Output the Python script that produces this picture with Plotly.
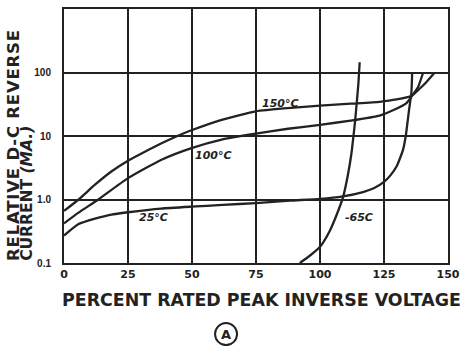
import math
import plotly.graph_objects as go

# ---- data ----
x_150 = [0, 5.7, 12.1, 18.5, 25, 31.4, 37.9, 44.3, 49.5, 61.6, 75, 87.4, 100, 112, 123.3, 129.9, 135.8, 139, 141.6, 144.8]
y_150 = [0.66, 1.0, 1.71, 2.76, 4.08, 5.6, 7.6, 10, 12.2, 18.0, 24.5, 27.5, 30, 32.3, 34.6, 37.6, 43, 56, 71, 100]

x_100 = [0, 5.7, 13.4, 25, 37.9, 49.5, 61.6, 75, 87.5, 100, 112, 123.3, 128.5, 133.8, 135.7, 138.3, 140.3]
y_100 = [0.42, 0.62, 1.0, 2.17, 4.2, 6.4, 8.8, 10.9, 13, 15, 17.5, 21, 25.4, 33, 41.5, 59, 100]

x_25 = [0, 5.7, 12.1, 18.5, 25, 37.9, 49.5, 62, 75, 88.2, 100, 109, 116.8, 121, 125, 127.5, 129.9, 132.4, 133.5, 134.8, 135.7, 136]
y_25 = [0.27, 0.41, 0.50, 0.58, 0.63, 0.72, 0.77, 0.82, 0.88, 0.96, 1.02, 1.12, 1.31, 1.5, 1.89, 2.4, 3.3, 6.0, 10, 26, 48, 100]

x_m65 = [92.1, 96, 100, 103.8, 106.4, 109, 111, 112.3, 112.9, 113.7, 114.4, 115, 115.5]
y_m65 = [0.1, 0.13, 0.18, 0.32, 0.56, 1.09, 2.57, 5.4, 8.7, 17, 35, 67, 145]

x_ticks = [0, 25, 50, 75, 100, 125, 150]
y_ticks = [0.1, 1, 10, 100]
y_tick_text = ["0.1", "1.0", "10", "100"]

labels = ["150°C", "100°C", "25°C", "-65C"]
label_x = [84.7, 58.5, 35.1, 115.1]
label_y = [33, 5.0, 0.525, 0.525]

INK = "#222222"
series = [(x_150, y_150), (x_100, y_100), (x_25, y_25), (x_m65, y_m65)]

fig = go.Figure()
for xs, ys in series:
    fig.add_trace(go.Scatter(x=xs, y=ys, mode="lines",
                             line=dict(color=INK, width=2.3, shape="spline", smoothing=0.5),
                             showlegend=False, hoverinfo="skip"))

for t, lx, ly in zip(labels, label_x, label_y):
    fig.add_annotation(x=lx, y=math.log10(ly), yref="y", xref="x", text="<i><b>%s</b></i>" % t,
                       showarrow=False, font=dict(family="DejaVu Sans", size=11, color=INK))

# axis titles
fig.add_annotation(xref="paper", yref="paper", x=-0.01, y=-0.145, xanchor="left", yanchor="middle",
                   text="<b>PERCENT RATED PEAK INVERSE VOLTAGE</b>", showarrow=False,
                   font=dict(family="DejaVu Sans", size=17.4, color=INK))
fig.add_annotation(xref="paper", yref="paper", x=-0.133, y=0.0, xanchor="center", yanchor="bottom",
                   textangle=-90,
                   text='<span style="letter-spacing:0.8px"><b>RELATIVE D-C REVERSE</b></span>',
                   showarrow=False, font=dict(family="DejaVu Sans", size=16.5, color=INK))
fig.add_annotation(xref="paper", yref="paper", x=-0.098, y=0.0, xanchor="center", yanchor="bottom",
                   textangle=-90, text="<b>CURRENT <i>(MA.)</i></b>", showarrow=False,
                   font=dict(family="DejaVu Sans", size=15.5, color=INK))

# circled A
fig.add_shape(type="circle", xref="paper", yref="paper", xsizemode="pixel", ysizemode="pixel",
              xanchor=0.422, yanchor=-0.28, x0=-11, x1=11, y0=-11, y1=11,
              line=dict(color=INK, width=2))
fig.add_annotation(xref="paper", yref="paper", x=0.422, y=-0.28, xanchor="center", yanchor="middle",
                   text="<b>A</b>", showarrow=False,
                   font=dict(family="DejaVu Sans", size=13, color=INK))

fig.update_xaxes(range=[0, 150], tickvals=x_ticks, ticktext=[str(v) for v in x_ticks],
                 showgrid=True, gridcolor=INK, gridwidth=1.5, zeroline=False,
                 showline=True, linecolor=INK, linewidth=2, mirror=True, ticks="",
                 automargin=False,
                 tickfont=dict(family="DejaVu Sans", size=11, color=INK, weight="bold"))
fig.update_yaxes(type="log", range=[-1, 3], tickvals=y_ticks, ticktext=y_tick_text,
                 showgrid=True, gridcolor=INK, gridwidth=1.5, zeroline=False,
                 showline=True, linecolor=INK, linewidth=2, mirror=True, ticks="",
                 ticklabelstandoff=9, automargin=False,
                 tickfont=dict(family="Liberation Sans", size=10, color=INK, weight="bold"))

fig.update_layout(width=461, height=346, margin=dict(l=64, r=13, t=9, b=83),
                  paper_bgcolor="white", plot_bgcolor="white")

# remove the page's default body margin so the figure fills the window exactly
fig.write_html("out.html",
               config={"responsive": False, "displayModeBar": False},
               post_script="document.body.style.margin='0';")
